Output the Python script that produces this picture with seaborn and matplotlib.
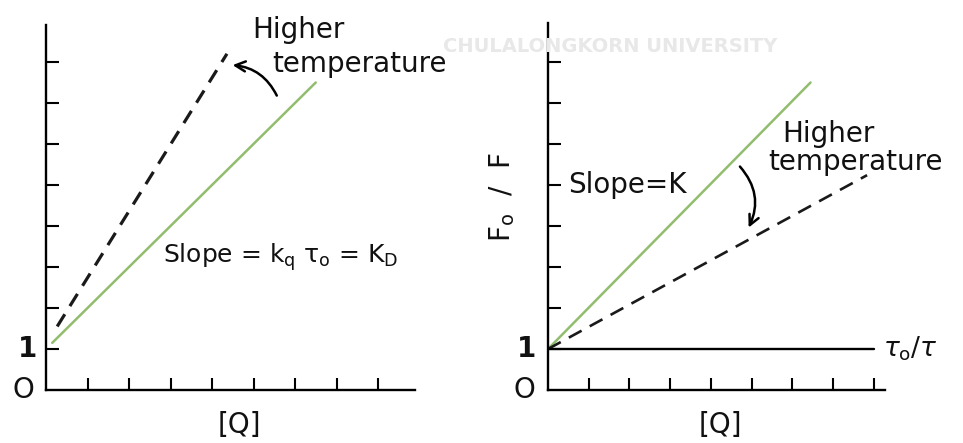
import numpy as np
import pandas as pd
import matplotlib
matplotlib.use("Agg")
import matplotlib.pyplot as plt
import seaborn as sns

# ---- data ----
left_solid_x = [0.15, 6.5]
left_solid_y = [1.15, 7.5]
left_dash_x = [0.27, 4.36]
left_dash_y = [1.55, 8.2]

right_solid_x = [0.0, 6.45]
right_solid_y = [1.0, 7.5]
right_dash_x = [0.0, 7.84]
right_dash_y = [1.0, 5.24]
right_flat_x = [0.0, 8.0]
right_flat_y = [1.0, 1.0]

tick_positions = [1, 2, 3, 4, 5, 6, 7, 8]

sns.set_theme(style="white")
plt.rcParams['font.family'] = ['DejaVu Sans']
plt.rcParams['mathtext.fontset'] = 'dejavusans'
plt.rcParams['text.color'] = 'black'

W, H = 963, 443
fig = plt.figure(figsize=(W / 100, H / 100), dpi=100)
fig.patch.set_facecolor("white")

GREEN = "#93bd6e"
FS = 20
TXT = "#111111"


def make_axes(x0, x1, y0, y1, xmax, ymax):
    ax = fig.add_axes([x0 / W, (H - y0) / H, (x1 - x0) / W, (y0 - y1) / H])
    ax.set_xlim(0, xmax)
    ax.set_ylim(0, ymax)
    ax.set_facecolor("none")
    for s in ["top", "right"]:
        ax.spines[s].set_visible(False)
    for s in ["left", "bottom"]:
        ax.spines[s].set_color("black")
        ax.spines[s].set_linewidth(1.7)
    ax.set_xticks(tick_positions)
    ax.set_yticks(tick_positions)
    ax.set_xticklabels([])
    ax.set_yticklabels([])
    ax.tick_params(axis="both", direction="in", length=9, width=1.5,
                   color="black", left=True, bottom=True)
    ax.grid(False)
    return ax


# faint watermark (moved clear of the labels)
fig.text(610 / W, 1 - 47 / H, "CHULALONGKORN UNIVERSITY", ha="center", va="center",
         fontsize=14, fontweight="bold", color="#e8e8e8", zorder=0)

# ---------------- left panel ----------------
axL = make_axes(46, 415, 390, 25, (415 - 46) / 41.5, (390 - 25) / 41.0)
dfL1 = pd.DataFrame({"x": left_solid_x, "y": left_solid_y})
dfL2 = pd.DataFrame({"x": left_dash_x, "y": left_dash_y})
sns.lineplot(data=dfL1, x="x", y="y", ax=axL, color=GREEN, lw=1.8)
sns.lineplot(data=dfL2, x="x", y="y", ax=axL, color="#1a1a1a", lw=2.3,
             linestyle=(0, (4.5, 3)))
axL.set_xlabel("")
axL.set_ylabel("")

axL.text(-0.45, 1.0, "1", ha="center", va="center", fontsize=FS, fontweight="bold", color=TXT)
axL.text(-0.55, 0.0, "O", ha="center", va="center", fontsize=FS, color=TXT)
axL.text(4.67, -0.85, "[Q]", ha="center", va="center", fontsize=FS, color=TXT)
axL.text(4.96, 8.59, "Higher", ha="left", va="baseline", fontsize=FS, color=TXT)
axL.text(5.45, 7.76, "temperature", ha="left", va="baseline", fontsize=FS, color=TXT)
axL.text(2.82, 3.1, "Slope = k$_\\mathrm{q}$ τ$_\\mathrm{o}$ = K$_\\mathrm{D}$",
         ha="left", va="baseline", fontsize=18, color=TXT)
axL.annotate("", xy=(4.43, 7.93), xytext=(5.59, 7.12),
             arrowprops=dict(arrowstyle="->", color="black", lw=1.8,
                             connectionstyle="arc3,rad=0.3",
                             mutation_scale=18))

# ---------------- right panel ----------------
axR = make_axes(548, 885, 390, 23, (885 - 548) / 40.7, (390 - 23) / 41.0)
dfR1 = pd.DataFrame({"x": right_solid_x, "y": right_solid_y})
dfR2 = pd.DataFrame({"x": right_dash_x, "y": right_dash_y})
dfR3 = pd.DataFrame({"x": right_flat_x, "y": right_flat_y})
sns.lineplot(data=dfR1, x="x", y="y", ax=axR, color=GREEN, lw=1.8)
sns.lineplot(data=dfR2, x="x", y="y", ax=axR, color="#1a1a1a", lw=1.9,
             linestyle=(0, (5.5, 3.5)))
sns.lineplot(data=dfR3, x="x", y="y", ax=axR, color="black", lw=1.7)
axR.set_xlabel("")
axR.set_ylabel("")

axR.text(-0.52, 1.0, "1", ha="center", va="center", fontsize=FS, fontweight="bold", color=TXT)
axR.text(-0.58, 0.0, "O", ha="center", va="center", fontsize=FS, color=TXT)
axR.text(4.23, -0.85, "[Q]", ha="center", va="center", fontsize=FS, color=TXT)
axR.text(-1.13, 4.7, "F$_\\mathrm{o}$  /  F", ha="center", va="center",
         fontsize=20, rotation=90, color=TXT)
axR.text(8.23, 1.0, "$\\tau_\\mathrm{o}/\\tau$", ha="left", va="center", fontsize=19, color=TXT)
axR.text(5.75, 6.05, "Higher", ha="left", va="baseline", fontsize=FS, color=TXT)
axR.text(5.41, 5.37, "temperature", ha="left", va="baseline", fontsize=FS, color=TXT)
axR.text(0.49, 4.8, "Slope=K", ha="left", va="baseline", fontsize=FS, color=TXT)
axR.annotate("", xy=(4.9, 3.9), xytext=(4.67, 5.5),
             arrowprops=dict(arrowstyle="->", color="black", lw=1.8,
                             connectionstyle="arc3,rad=-0.35",
                             mutation_scale=18))

fig.savefig("out.png", dpi=100, facecolor="white")
